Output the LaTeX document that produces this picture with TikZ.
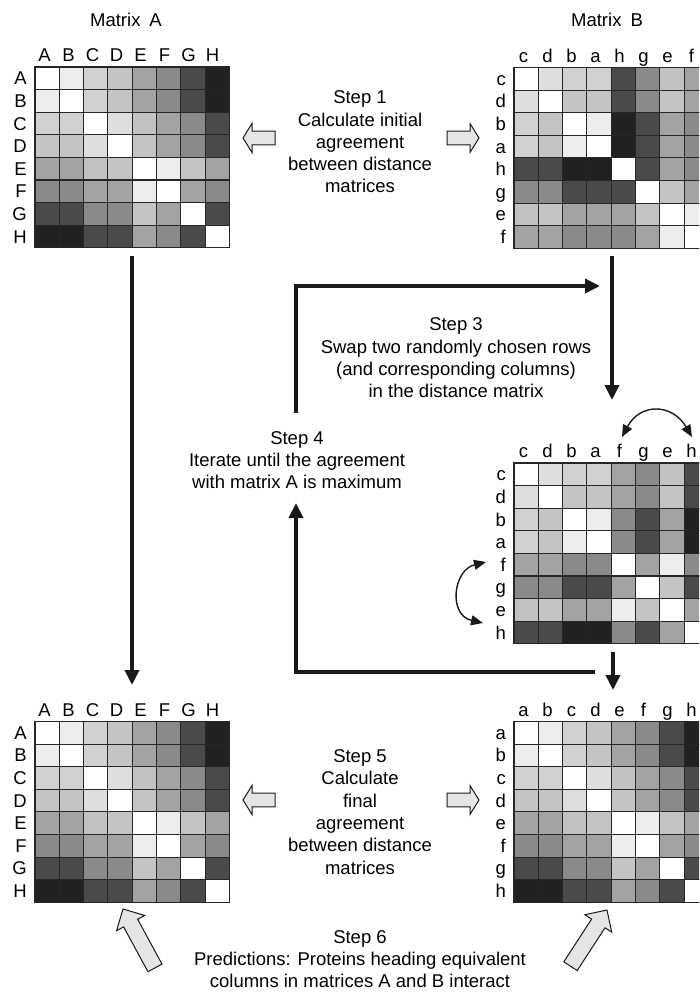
\documentclass[tikz,border=0pt]{standalone}
\usepackage{fontspec}
\setmainfont{Liberation Sans}
\usetikzlibrary{arrows.meta}

\def\gv{{100,93,82,77,64,54,29,13,
         93,100,82,77,64,54,29,13,
         82,82,100,87,76,64,54,29,
         77,77,87,100,77,64,54,29,
         64,64,76,77,100,93,77,64,
         54,54,64,64,93,100,64,54,
         29,29,54,54,77,64,100,29,
         13,13,29,29,64,54,29,100}}
\def\permId{{0,1,2,3,4,5,6,7}}
\def\permB{{2,3,1,0,7,6,4,5}}
\def\permC{{2,3,1,0,5,6,4,7}}
\def\cellw{24.3}
\def\cellh{22.6}

\tikzset{
  cell/.style={draw=black!85, line width=1.1pt},
  lab/.style={inner sep=0pt, font=\fontsize{18.5}{22.3}\selectfont},
  txt/.style={inner sep=0pt, align=center, font=\fontsize{18.5}{22.3}\selectfont},
  flow/.style={line width=3.6pt, draw=black!90, line join=miter, -{Triangle[width=14pt,length=15pt]}},
  swaparrow/.style={line width=1.4pt, draw=black!90, {Triangle[width=10pt,length=12pt]}-{Triangle[width=10pt,length=12pt]}},
  blk/.style={draw=black!90, line width=1pt, fill=black!10, line join=miter},
  smallblock/.pic={\draw[blk] (0,0) -- (9,-14.5) -- (9,-6.8) -- (32,-6.8) -- (32,6.8) -- (9,6.8) -- (9,14.5) -- cycle;},
  bigblock/.pic={\draw[blk] (0,0) -- (16,-16) -- (16,-8) -- (67,-8) -- (67,8) -- (16,8) -- (16,16) -- cycle;},
}

% #1 x, #2 y, #3 permutation, #4 labels, #5 name prefix
\newcommand\drawmat[5]{%
  \foreach \r in {0,...,7}{%
    \foreach \c in {0,...,7}{%
      \pgfmathtruncatemacro\pr{#3[\r]}%
      \pgfmathtruncatemacro\pc{#3[\c]}%
      \pgfmathtruncatemacro\g{\gv[8*\pr+\pc]}%
      \draw[cell, fill=white!\g!black] (#1+\c*\cellw, #2+\r*\cellh) rectangle ++(\cellw,\cellh);
    }%
  }%
  \foreach \l [count=\k from 0] in {#4}{%
    \node[lab, anchor=base] (#5col\k) at (#1+9.5+\k*24, #2-5.5) {\l};
    \node[lab, anchor=base east] (#5row\k) at (#1-8, #2+\k*\cellh+\cellh/2+6.5) {\l};
  }%
}

\begin{document}
\begin{tikzpicture}[x=1pt,y=-1pt]
\useasboundingbox (0,0) rectangle (699,996);
\clip (0,0) rectangle (699,996);

% titles
\node[lab] (titleA) at (126,20) {Matrix\hspace{9pt}A};
\node[lab] (titleB) at (607,20) {Matrix\hspace{9pt}B};

% matrices
\drawmat{35}{67}{\permId}{A,B,C,D,E,F,G,H}{ma}
\drawmat{514}{67.5}{\permB}{c,d,b,a,h,g,e,f}{mb}
\drawmat{514}{463}{\permC}{c,d,b,a,f,g,e,h}{mc}
\drawmat{35}{721.5}{\permId}{A,B,C,D,E,F,G,H}{md}
\drawmat{514}{721.5}{\permId}{a,b,c,d,e,f,g,h}{me}

% texts
\node[txt] (step1) at (360,142) {Step 1\\Calculate initial\\agreement\\between distance\\matrices};
\node[txt] (step3) at (456,358) {Step 3\\Swap two randomly chosen rows\\(and corresponding columns)\\in the distance matrix};
\node[txt] (step4) at (297,460) {Step 4\\Iterate until the agreement\\with matrix A is maximum};
\node[txt] (step5) at (360,812) {Step 5\\Calculate\\final\\agreement\\between distance\\matrices};
\node[txt] (step6) at (360,959) {Step 6\\Predictions: Proteins heading equivalent\\columns in matrices A and B interact};

% block arrows
\pic at (243,138) {smallblock};
\pic[rotate=180] at (479,138) {smallblock};
\pic at (243,800) {smallblock};
\pic[rotate=180] at (479,800) {smallblock};
\pic[rotate=-61.5] at (123,909) {bigblock};
\pic[rotate=-123] at (607,910) {bigblock};

% flow connectors
\coordinate (a1) at (132,256);
\coordinate (a2) at (132,685);
\draw[flow] (a1) -- (a2);

\coordinate (b1) at (612,256);
\coordinate (b2) at (612,400);
\draw[flow] (b1) -- (b2);

\coordinate (t1) at (296,413);
\coordinate (t2) at (296,286);
\coordinate (t3) at (600,286);
\draw[flow] (t1) -- (t2) -- (t3);

\coordinate (l1) at (595,672);
\coordinate (l2) at (296,672);
\coordinate (l3) at (296,503);
\draw[flow] (l1) -- (l2) -- (l3);

\coordinate (c1) at (613,652);
\coordinate (c2) at (613,690);
\draw[flow] (c1) -- (c2);

% swap arrows
\coordinate (s1) at (622,437);
\coordinate (s2) at (692,437);
\draw[swaparrow] (s1) .. controls (640,403) and (672,403) .. (s2);
\coordinate (r1) at (486,562);
\coordinate (r2) at (483,623);
\draw[swaparrow] (r1) .. controls (453,570) and (448,615) .. (r2);
\end{tikzpicture}
\end{document}
